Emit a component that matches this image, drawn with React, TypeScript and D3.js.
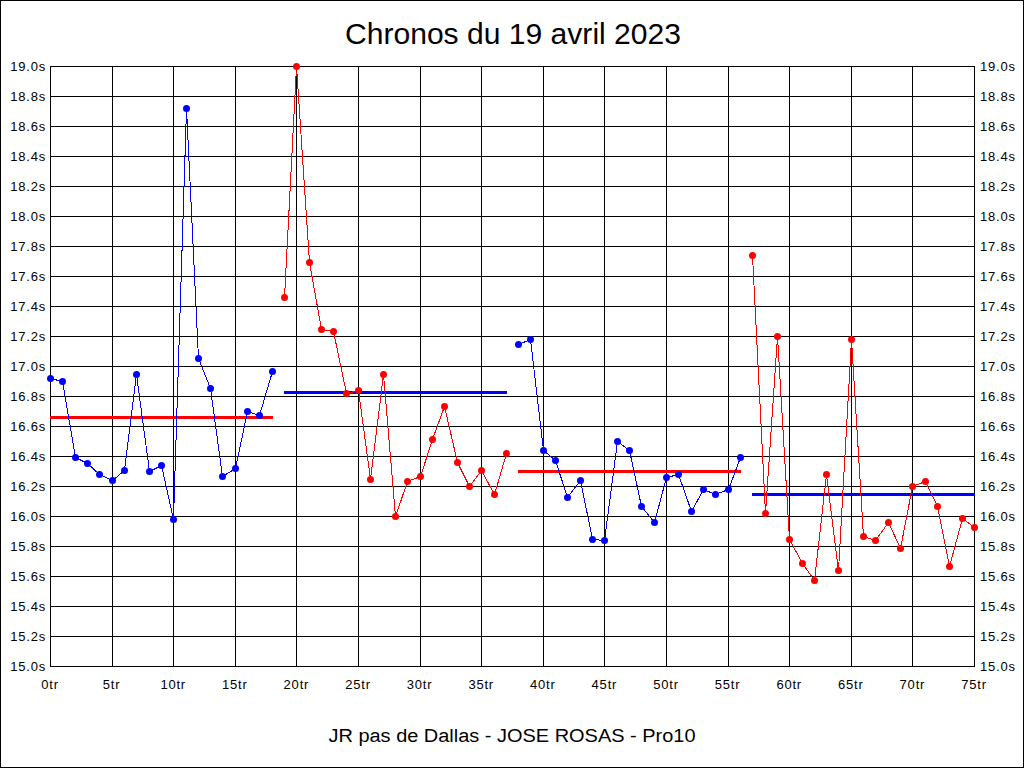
import React from "react";
import * as d3 from "d3";

const TITLE = "Chronos du 19 avril 2023";
const SUBTITLE = "JR pas de Dallas - JOSE ROSAS - Pro10";

const startLaps = [0, 19, 38, 57];
const seg1 = [16.92, 16.90, 16.39, 16.35, 16.28, 16.24, 16.31, 16.95, 16.30, 16.34, 15.98, 18.72, 17.05, 16.85, 16.27, 16.32, 16.70, 16.67, 16.97];
const seg2 = [17.46, 19.00, 17.69, 17.25, 17.23, 16.82, 16.84, 16.25, 16.95, 16.00, 16.23, 16.27, 16.51, 16.73, 16.36, 16.20, 16.31, 16.15, 16.42];
const seg3 = [17.15, 17.18, 16.44, 16.37, 16.13, 16.24, 15.85, 15.84, 16.50, 16.44, 16.07, 15.96, 16.26, 16.28, 16.03, 16.18, 16.15, 16.18, 16.39];
const seg4 = [17.74, 16.02, 17.20, 15.85, 15.69, 15.57, 16.28, 15.64, 17.18, 15.87, 15.84, 15.96, 15.79, 16.20, 16.23, 16.07, 15.67, 15.99, 15.93];
const averages = [16.66, 16.83, 16.30, 16.15];
const lineColors = ["#0000ff", "#ff0000", "#0000ff", "#ff0000"];
const avgColors = ["#ff0000", "#0000ff", "#ff0000", "#0000ff"];

const xTicks = d3.range(0, 76, 5);
const yTicks = d3.range(0, 21).map((i) => 15 + i * 0.2);

const W = 1024;
const H = 768;
const FONT = "'Liberation Sans', Arial, sans-serif";

export default function App() {
  const x = d3.scaleLinear().domain([0, 75]).range([50, 974]);
  const y = d3.scaleLinear().domain([15, 19]).range([666, 66]).clamp(true);
  const segs = [seg1, seg2, seg3, seg4];
  const line = d3
    .line<[number, number]>()
    .x((d) => Math.round(x(d[0])) + 0.5)
    .y((d) => Math.round(y(d[1])) + 0.5);

  return (
    <svg
      width={W}
      height={H}
      style={{ position: "absolute", left: 0, top: 0, display: "block", background: "#fff" }}
      fontFamily={FONT}
    >
      <rect x={0} y={0} width={W} height={H} fill="#fff" />
      <rect x={0.5} y={0.5} width={W - 1} height={H - 1} fill="none" stroke="#000" />
      <text x={513} y={44} textAnchor="middle" fontSize={30} fill="#000" textLength={336} lengthAdjust="spacingAndGlyphs">
        {TITLE}
      </text>
      <text x={512} y={742} textAnchor="middle" fontSize={18} fill="#000" textLength={367} lengthAdjust="spacingAndGlyphs">
        {SUBTITLE}
      </text>
      <g shapeRendering="crispEdges" stroke="#000" strokeWidth={1}>
        {yTicks.map((t, i) => {
          const yy = Math.round(y(t)) + 0.5;
          return <line key={"h" + i} x1={50} x2={975} y1={yy} y2={yy} />;
        })}
        {xTicks.map((t) => {
          const xx = Math.round(x(t)) + 0.5;
          return <line key={"v" + t} x1={xx} x2={xx} y1={66} y2={667} />;
        })}
      </g>
      <g fontSize={13} fill="#000" letterSpacing={0.8}>
        {yTicks.map((t, i) => (
          <text key={"l" + i} x={46} y={y(t)} dy="0.35em" textAnchor="end">
            {t.toFixed(1) + "s"}
          </text>
        ))}
        {yTicks.map((t, i) => (
          <text key={"r" + i} x={980} y={y(t)} dy="0.35em" textAnchor="start">
            {t.toFixed(1) + "s"}
          </text>
        ))}
        {xTicks.map((t) => (
          <text key={"b" + t} x={x(t)} y={689} textAnchor="middle">
            {t + "tr"}
          </text>
        ))}
      </g>
      {averages.map((a, i) => {
        const s = startLaps[i];
        const e = s + segs[i].length - 1;
        const yy = Math.round(y(a)) + 0.5;
        return (
          <line
            key={"avg" + i}
            x1={Math.round(x(s))}
            x2={Math.round(x(e)) + 1}
            y1={yy}
            y2={yy}
            stroke={avgColors[i]}
            strokeWidth={3}
            shapeRendering="crispEdges"
          />
        );
      })}
      {segs.map((vals, i) => {
        const pts: [number, number][] = vals.map((v, j) => [startLaps[i] + j, v]);
        return (
          <g key={"s" + i}>
            <path d={line(pts) || ""} fill="none" stroke={lineColors[i]} strokeWidth={1} shapeRendering="crispEdges" />
            {pts.map((p, j) => (
              <circle
                key={j}
                cx={Math.round(x(p[0])) + 0.5}
                cy={Math.round(y(p[1])) + 0.5}
                r={3.5}
                fill={lineColors[i]}
              />
            ))}
          </g>
        );
      })}
    </svg>
  );
}
